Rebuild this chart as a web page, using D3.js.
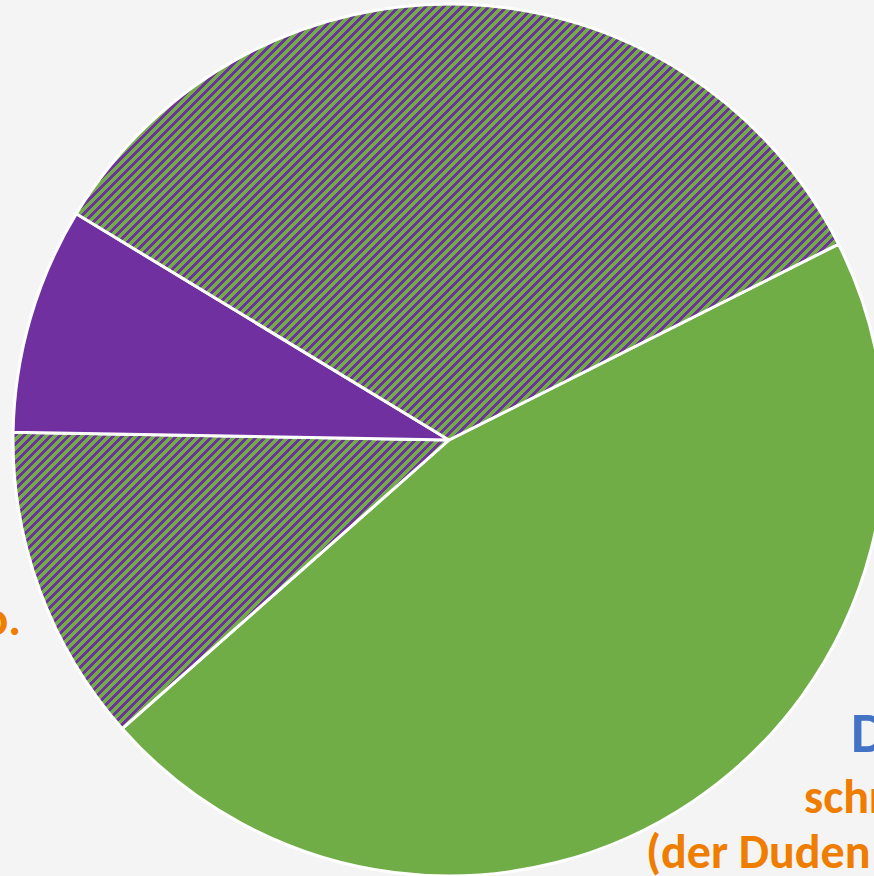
<!DOCTYPE html>
<html>
<head>
<meta charset="utf-8">
<script src="https://cdn.jsdelivr.net/npm/d3@7"></script>
<style>
  html, body { margin: 0; padding: 0; background: #f4f4f4; overflow: hidden; }
  svg { display: block; }
</style>
</head>
<body>
<div id="chart"></div>
<script>
// slice order clockwise, starting at the green slice
const sliceIds = ["gruen", "schraffiert_unten", "violett", "schraffiert_oben"]
const sliceValues = [45.9, 11.8, 8.4, 33.9]
const sliceFills = ["solidGreen", "hatch", "solidPurple", "hatch"]

// label fragments visible in the crop
const labelLines = ["D", "schr", "(der Duden"]
const leftLabel = "o."

const width = 874
const height = 876
const cx = 449
const cy = 440
const radius = 436

const GREEN = "#70ad47"
const PURPLE = "#7030a0"
const BLUE = "#4472c4"
const ORANGE = "#ef7d00"

const svg = d3.select("#chart")
  .append("svg")
  .attr("width", width)
  .attr("height", height)

svg.append("rect")
  .attr("width", width)
  .attr("height", height)
  .attr("fill", "#f4f4f4")

// wide upward diagonal pattern: purple stripes on green
const TILE = 9
const defs = svg.append("defs")
const pat = defs.append("pattern")
  .attr("id", "hatch")
  .attr("patternUnits", "userSpaceOnUse")
  .attr("width", TILE)
  .attr("height", TILE)
pat.append("rect").attr("width", TILE).attr("height", TILE).attr("fill", GREEN)
const px = d3.cross(d3.range(TILE), d3.range(TILE)).filter(([x, y]) => (x + y) % TILE < 4)
pat.selectAll("rect.px")
  .data(px)
  .join("rect")
  .attr("class", "px")
  .attr("x", d => d[0])
  .attr("y", d => d[1])
  .attr("width", 1)
  .attr("height", 1)
  .attr("fill", PURPLE)
  .attr("shape-rendering", "crispEdges")

const fillFor = f => f === "hatch" ? "url(#hatch)" : (f === "solidGreen" ? GREEN : PURPLE)

const start = 63.3 * Math.PI / 180
const pie = d3.pie()
  .sort(null)
  .value(d => d.value)
  .startAngle(start)
  .endAngle(start + Math.PI * 2)

const arc = d3.arc().innerRadius(0).outerRadius(radius)

const data = sliceIds.map((id, i) => ({ id, value: sliceValues[i], fill: sliceFills[i] }))

const g = svg.append("g").attr("transform", `translate(${cx},${cy})`)

g.selectAll("path")
  .data(pie(data))
  .join("path")
  .attr("d", arc)
  .attr("fill", d => fillFor(d.data.fill))
  .attr("stroke", "#ffffff")
  .attr("stroke-width", 3)
  .attr("stroke-linejoin", "round")

// labels (cut off by the crop, as in the reference)
const font = "Carlito, Calibri, Lato, 'Open Sans', sans-serif"

svg.append("text")
  .attr("x", 851)
  .attr("y", 752)
  .attr("fill", BLUE)
  .attr("font-family", font)
  .attr("font-weight", "bold")
  .attr("font-size", "56px")
  .text(labelLines[0])

svg.append("text")
  .attr("x", 804)
  .attr("y", 813)
  .attr("fill", ORANGE)
  .attr("font-family", font)
  .attr("font-weight", "bold")
  .attr("font-size", "48px")
  .text(labelLines[1])

svg.append("text")
  .attr("x", 646)
  .attr("y", 868)
  .attr("fill", ORANGE)
  .attr("font-family", font)
  .attr("font-weight", "bold")
  .attr("font-size", "48px")
  .text(labelLines[2])

svg.append("text")
  .attr("x", 21)
  .attr("y", 635)
  .attr("text-anchor", "end")
  .attr("fill", ORANGE)
  .attr("font-family", font)
  .attr("font-weight", "bold")
  .attr("font-size", "48px")
  .text(leftLabel)
</script>
</body>
</html>
